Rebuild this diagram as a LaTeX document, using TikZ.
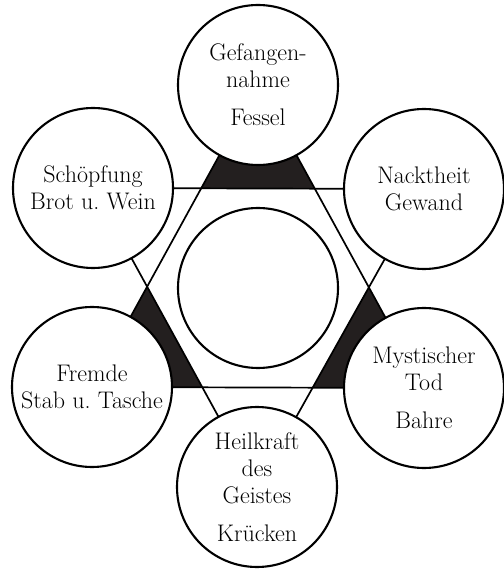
\documentclass[tikz,border=0pt]{standalone}
\begin{document}
\begin{tikzpicture}[x=1pt, y=1pt,
  font=\fontsize{24}{27}\selectfont,
  station/.style={draw, circle, line width=2.1pt, fill=white,
    minimum size=160pt, inner sep=0pt, align=center},
  star/.style={line width=1.7pt, line join=miter}]
  \definecolor{ink}{HTML}{231F1F}
  \useasboundingbox (-258,-281) rectangle (245,288);
  % points of the star, the circles sit on them
  \coordinate (pT) at (0,203);
  \coordinate (pUL) at (-165,100);
  \coordinate (pUR) at (166,99);
  \coordinate (pLL) at (-166,-99);
  \coordinate (pLR) at (166,-100);
  \coordinate (pB) at (-1,-199);
  % rising triangle black, falling one white over it
  \fill[ink] (pT) -- (pLL) -- (pLR) -- cycle;
  \fill[white] (pUL) -- (pUR) -- (pB) -- cycle;
  \draw[star] (pT) -- (pLL) -- (pLR) -- cycle;
  \draw[star] (pUL) -- (pUR) -- (pB) -- cycle;
  % the six circles
  \node[station] (gef) at (pT) {Gefangen-\\nahme\\[11pt]Fessel};
  \node[station] (sch) at (pUL) {Sch\"opfung\\Brot u.\ Wein};
  \node[station] (nac) at (pUR) {Nacktheit\\Gewand};
  \node[station] (fre) at (pLL) {Fremde\\Stab u.\ Tasche};
  \node[station] (mys) at (pLR) {Mystischer\\Tod\\[11pt]Bahre};
  \node[station] (hei) at (pB) {Heilkraft\\des\\Geistes\\[11pt]Kr\"ucken};
  \node[station] (mid) at (0,0) {};
\end{tikzpicture}
\end{document}
